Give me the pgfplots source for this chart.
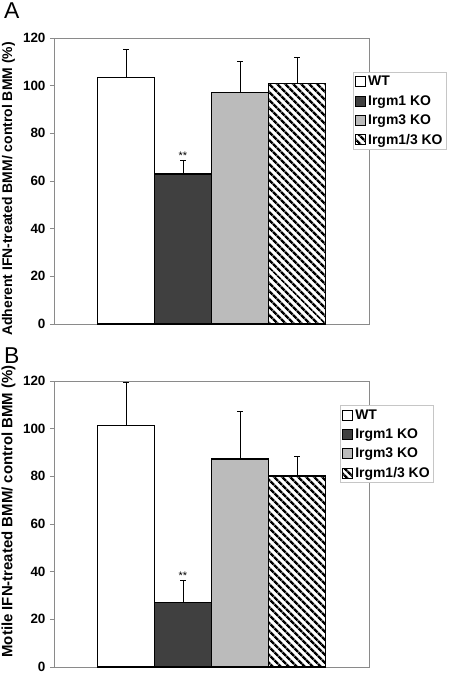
\documentclass[border=0pt]{standalone}
\usepackage{fontspec}
\setmainfont{Liberation Sans}
\usepackage{pgfplots}
\pgfplotsset{compat=1.18}
\usetikzlibrary{patterns.meta}
\definecolor{darkbar}{HTML}{404040}
\definecolor{lightbar}{HTML}{BBBBBB}
\definecolor{framegray}{HTML}{8A8A8A}
\pgfplotsset{
  panel/.style={
    scale only axis, width=315bp, height=286bp,
    ymin=0, ymax=120, xmin=-1, xmax=1,
    ytick={0,20,...,120}, xtick=\empty, ytick pos=left,
    tick align=outside, major tick length=4bp,
    axis line style={framegray, line width=0.9bp},
    every tick/.style={framegray, line width=0.9bp},
    tick label style={font=\fontsize{13.5}{13.5}\selectfont\bfseries},
    /pgf/number format/assume math mode=true,
    yticklabel style={xshift=-1bp},
    ybar, bar width=57bp,
    clip=false,
    legend cell align=left,
    legend image code/.code={\draw[#1, line width=0.9bp] (0bp,-5bp) rectangle (10bp,5bp);},
    legend style={draw=gray!45, line width=0.7bp, anchor=north west,
      font=\fontsize{14}{14}\selectfont\bfseries,
      inner xsep=2bp, inner ysep=2.5bp, row sep=5bp,
      nodes={inner xsep=2bp, inner ysep=1.5bp}},
    every axis plot/.append style={draw=black, line width=1.4bp},
    error bars/y dir=plus, error bars/y explicit,
    error bars/error bar style={black, line width=0.9bp},
    error bars/error mark options={rotate=90, mark size=3bp, black, line width=0.9bp},
  },
}
\begin{document}
\begin{tikzpicture}
\useasboundingbox (0,0) rectangle (450bp,-673bp);
% Panel A
\node[anchor=north west, inner sep=0pt, font=\fontsize{23}{23}\selectfont] at (4bp,-3bp) {A};
\begin{axis}[panel, at={(54bp,-324bp)}, anchor=south west,
  ylabel={Adherent IFN-treated BMM/ control BMM (\%)},
  ylabel style={font=\fontsize{14}{14}\selectfont\bfseries, rotate=0, anchor=center,
    at={([xshift=-45.5bp]axis description cs:0,0.472)}},
  legend style={at={(rel axis cs:0.949,0.881)}}]
\addplot[fill=white, bar shift=-85.5bp] coordinates {(0,103.5) +- (0,11.8)};
\addplot[fill=darkbar, bar shift=-28.5bp] coordinates {(0,62.9) +- (0,5.8)};
\addplot[fill=lightbar, bar shift=28.5bp] coordinates {(0,97.2) +- (0,13.0)};
\addplot[pattern={Lines[angle=-45, distance=6bp, line width=2.8bp]}, bar shift=85.5bp] coordinates {(0,100.8) +- (0,11.0)};
\legend{WT, Irgm1 KO, Irgm3 KO, Irgm1/3 KO}
\node[font=\fontsize{11}{11}\selectfont, anchor=south] at ([xshift=-28.5bp]axis cs:0,67.5) {**};
\end{axis}
% Panel B
\node[anchor=north west, inner sep=0pt, font=\fontsize{23}{23}\selectfont] at (4bp,-348bp) {B};
\begin{axis}[panel, at={(54bp,-667bp)}, anchor=south west,
  ylabel={Motile IFN-treated BMM/ control BMM (\%)},
  ylabel style={font=\fontsize{15}{15}\selectfont\bfseries, rotate=0, anchor=center,
    at={([xshift=-45.5bp]axis description cs:0,0.544)}},
  legend style={at={(rel axis cs:0.908,0.915)}}]
\addplot[fill=white, bar shift=-85.5bp] coordinates {(0,101.3) +- (0,17.9)};
\addplot[fill=darkbar, bar shift=-28.5bp] coordinates {(0,27.0) +- (0,9.4)};
\addplot[fill=lightbar, bar shift=28.5bp] coordinates {(0,87.3) +- (0,19.9)};
\addplot[pattern={Lines[angle=-45, distance=6bp, line width=2.8bp]}, bar shift=85.5bp] coordinates {(0,80.2) +- (0,8.1)};
\legend{WT, Irgm1 KO, Irgm3 KO, Irgm1/3 KO}
\node[font=\fontsize{11}{11}\selectfont, anchor=south] at ([xshift=-28.5bp]axis cs:0,35.3) {**};
\end{axis}
\end{tikzpicture}
\end{document}
